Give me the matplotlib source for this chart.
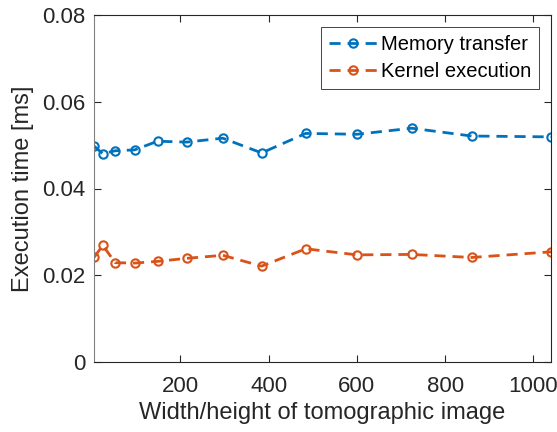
import numpy as np
import matplotlib
matplotlib.use("Agg")
import matplotlib.pyplot as plt

plt.rcParams['font.family'] = ['Liberation Sans', 'DejaVu Sans']

size = [4, 24, 52, 96, 148, 214, 296, 384, 484, 600, 724, 860, 1040]
mem = [0.0498, 0.0480, 0.0487, 0.0489, 0.0509, 0.0507, 0.0516, 0.0482, 0.0527, 0.0525, 0.0539, 0.0521, 0.0519]
kern = [0.0241, 0.0269, 0.0229, 0.0228, 0.0232, 0.0239, 0.0246, 0.0221, 0.0261, 0.0247, 0.0248, 0.0241, 0.0254]

blue = '#0072BD'
orange = '#D95319'

fig = plt.figure(figsize=(5.57, 4.32), dpi=100)
ax = fig.add_axes([94/557, 1-362/432, 457/557, 347/432])

ax.plot(size, mem, color=blue, linestyle='--', dashes=(4, 2.5), linewidth=2,
        marker='o', markersize=6, markerfacecolor='none', markeredgewidth=1.5,
        label='Memory transfer')
ax.plot(size, kern, color=orange, linestyle='--', dashes=(4, 2.5), linewidth=2,
        marker='o', markersize=6, markerfacecolor='none', markeredgewidth=1.5,
        label='Kernel execution')

ax.set_xlim(4, 1040)
ax.set_ylim(0, 0.08)
ax.set_xticks([200, 400, 600, 800, 1000])
ax.set_yticks([0, 0.02, 0.04, 0.06, 0.08])
ax.set_yticklabels(['0', '0.02', '0.04', '0.06', '0.08'])

for s in ax.spines.values():
    s.set_color('#262626')
    s.set_linewidth(0.8)
ax.spines['left'].set_color('#808080')
ax.tick_params(direction='in', length=5, width=0.8, top=True, right=True,
               labelsize=16, colors='#262626')
ax.tick_params(axis='y', pad=6)
ax.tick_params(axis='x', pad=10)

ax.set_xlabel('Width/height of tomographic image', fontsize=17, color='#262626', labelpad=4)
ax.set_ylabel('Execution time [ms]', fontsize=17, color='#262626', labelpad=6)

leg = ax.legend(loc='upper right', fontsize=14.5, handlelength=2.4,
                handletextpad=0.15, borderaxespad=0.6, borderpad=0.4,
                fancybox=False, framealpha=1, labelspacing=0.4)
leg.get_frame().set_edgecolor('#262626')
leg.get_frame().set_linewidth(0.6)

fig.savefig('out.png', dpi=100)
